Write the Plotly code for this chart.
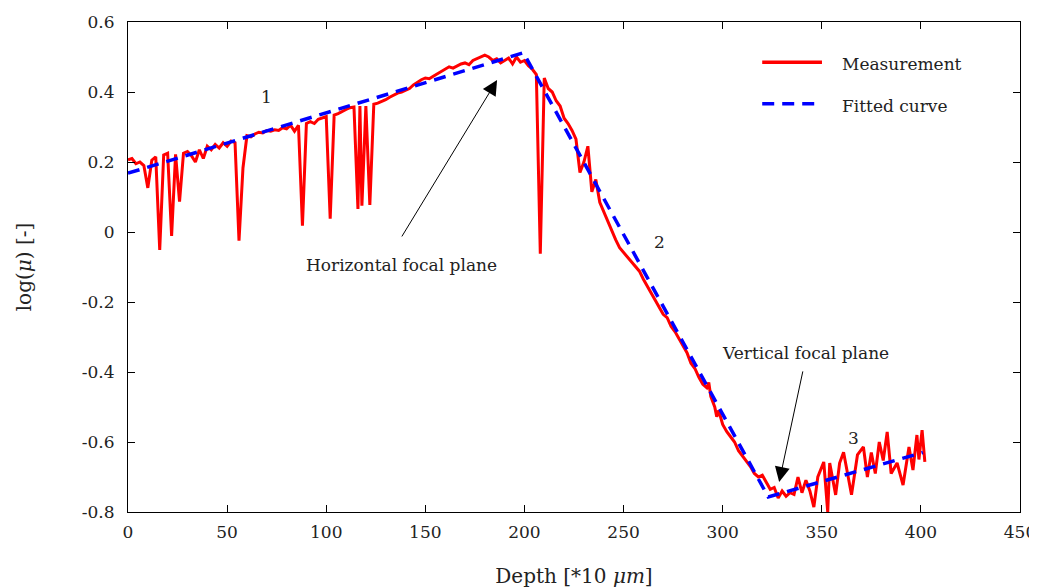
import plotly.graph_objects as go

# Measurement (depth in *10 um, log(mu))
depth_meas = [0, 2, 4, 6, 8, 10, 12, 14, 16, 18, 20, 22, 24, 26, 28, 30, 32, 34, 36, 38,
              40, 42, 44, 46, 48, 50, 52, 54, 56, 58, 60, 62, 64, 66, 68, 70, 72, 74, 76, 78,
              80, 82, 84, 86, 88, 90, 92, 94, 96, 98, 100, 102, 104, 106, 108, 110, 112, 114, 116, 117,
              118, 120, 122, 124, 126, 128, 130, 132, 134, 136, 138, 140, 142, 144, 146, 148, 150, 152, 154, 156,
              158, 160, 162, 164, 166, 168, 170, 172, 174, 176, 178, 180, 182, 184, 186, 188, 190, 192, 194, 196,
              198, 200, 202, 204, 206, 208, 210, 212, 214, 216, 218, 220, 222, 224, 226, 228, 230, 232, 234, 236,
              238, 240, 242, 244, 246, 248, 250, 252, 254, 256, 258, 260, 262, 264, 266, 268, 270, 272, 274, 276,
              278, 280, 282, 284, 286, 288, 290, 292, 293, 294, 296, 297, 298, 300, 302, 304, 306, 308, 310, 312,
              314, 316, 318, 320, 322, 324, 326, 328, 330, 332, 334, 336, 338, 340, 342, 344, 346, 348, 351, 353,
              354, 357, 359, 361, 363, 365, 368, 371, 373, 375, 377, 379, 381, 383, 385, 388, 391, 394, 396, 398,
              399, 400.6, 402]
logmu_meas = [0.206, 0.210, 0.195, 0.200, 0.190, 0.126, 0.205, 0.215, -0.051, 0.220, 0.225, -0.011, 0.222, 0.087, 0.225, 0.230, 0.218, 0.200, 0.235, 0.210,
              0.245, 0.235, 0.250, 0.240, 0.255, 0.245, 0.260, 0.255, -0.025, 0.183, 0.275, 0.272, 0.280, 0.285, 0.283, 0.290, 0.288, 0.292, 0.290, 0.298,
              0.295, 0.305, 0.288, 0.305, 0.018, 0.310, 0.315, 0.310, 0.322, 0.326, 0.330, 0.038, 0.334, 0.338, 0.345, 0.350, 0.355, 0.357, 0.066, 0.360,
              0.075, 0.360, 0.077, 0.365, 0.368, 0.372, 0.378, 0.385, 0.392, 0.397, 0.400, 0.405, 0.410, 0.420, 0.428, 0.435, 0.440, 0.438, 0.445, 0.452,
              0.460, 0.465, 0.472, 0.468, 0.475, 0.480, 0.483, 0.478, 0.490, 0.495, 0.500, 0.505, 0.500, 0.490, 0.495, 0.483, 0.490, 0.497, 0.480, 0.500,
              0.485, 0.490, 0.475, 0.465, 0.450, -0.062, 0.440, 0.410, 0.400, 0.375, 0.360, 0.325, 0.310, 0.290, 0.265, 0.170, 0.200, 0.245, 0.115, 0.150,
              0.085, 0.058, 0.030, 0.005, -0.022, -0.045, -0.058, -0.072, -0.085, -0.100, -0.112, -0.135, -0.155, -0.175, -0.195, -0.215, -0.235, -0.245, -0.270, -0.285,
              -0.305, -0.325, -0.345, -0.375, -0.390, -0.415, -0.435, -0.445, -0.430, -0.470, -0.500, -0.528, -0.510, -0.550, -0.570, -0.585, -0.600, -0.625, -0.640, -0.655,
              -0.670, -0.690, -0.700, -0.695, -0.715, -0.735, -0.730, -0.760, -0.740, -0.755, -0.745, -0.750, -0.700, -0.745, -0.709, -0.740, -0.786, -0.700, -0.657, -0.800,
              -0.660, -0.751, -0.660, -0.629, -0.690, -0.751, -0.637, -0.614, -0.700, -0.630, -0.690, -0.600, -0.653, -0.571, -0.690, -0.660, -0.723, -0.614, -0.680, -0.580,
              -0.650, -0.566, -0.657]

# Fitted piecewise-linear curve
depth_fit = [0, 199.5, 323, 401]
logmu_fit = [0.168, 0.512, -0.757, -0.630]

# Axis ticks
x_ticks = [0, 50, 100, 150, 200, 250, 300, 350, 400, 450]
y_ticks = [-0.8, -0.6, -0.4, -0.2, 0, 0.2, 0.4, 0.6]
y_tick_text = ["-0.8", "-0.6", "-0.4", "-0.2", "0", "0.2", "0.4", "0.6"]

series_names = ["Measurement", "Fitted curve"]
RED = "#ff0000"
BLUE = "#0000ff"
DASH = "12px,8px"
FONT = "DejaVu Serif"
FS = 17
TXT = "#222222"

fig = go.Figure()
fig.add_trace(go.Scatter(x=depth_meas, y=logmu_meas, mode="lines", name=series_names[0],
                         line=dict(color=RED, width=3), showlegend=False))
fig.add_trace(go.Scatter(x=depth_fit, y=logmu_fit, mode="lines", name=series_names[1],
                         line=dict(color=BLUE, width=3.5, dash=DASH), showlegend=False))

annots = [
    dict(x=70, y=0.386, text="1", showarrow=False),
    dict(x=268, y=-0.029, text="2", showarrow=False),
    dict(x=366, y=-0.589, text="3", showarrow=False),
    dict(x=138, y=-0.094, text="Horizontal focal plane", showarrow=False),
    dict(x=342, y=-0.346, text="Vertical focal plane", showarrow=False),
    dict(x=186.2, y=0.434, ax=137.7, ay=-0.017, axref="x", ayref="y", text="",
         showarrow=True, arrowhead=2, arrowsize=3, arrowwidth=1, arrowcolor="black"),
    dict(x=328.5, y=-0.714, ax=340.6, ay=-0.394, axref="x", ayref="y", text="",
         showarrow=True, arrowhead=2, arrowsize=3, arrowwidth=1, arrowcolor="black"),
]
for a in annots:
    a.setdefault("xref", "x")
    a.setdefault("yref", "y")
    a["font"] = dict(family=FONT, size=FS, color=TXT)
    fig.add_annotation(**a)

# Legend drawn in paper coordinates (long line samples, no frame)
leg_rows = [(0.918, RED, "solid"), (0.833, BLUE, DASH)]
for (yy, col, dsh), name in zip(leg_rows, series_names):
    fig.add_shape(type="line", xref="paper", yref="paper", x0=0.711, x1=0.778, y0=yy, y1=yy,
                  line=dict(color=col, width=3.5, dash=dsh))
    fig.add_annotation(xref="paper", yref="paper", x=0.798, y=yy - 0.004, text=name,
                       showarrow=False, xanchor="left", yanchor="middle",
                       font=dict(family=FONT, size=FS, color=TXT))

# page body adds an 8px margin, so the figure is sized to fit inside the window
fig.update_layout(
    width=1029, height=580,
    margin=dict(l=120, r=17, t=14, b=76),
    paper_bgcolor="white", plot_bgcolor="white",
    font=dict(family=FONT, size=FS, color=TXT),
    showlegend=False,
)
fig.update_xaxes(range=[0, 450], tickvals=x_ticks, ticks="inside", ticklen=7, tickcolor="black",
                 showline=True, linecolor="black", linewidth=1, mirror="ticks", showgrid=False,
                 zeroline=False, ticklabelstandoff=5, automargin=False,
                 title=dict(text="Depth [*10 <i>μm</i>]", standoff=28))
fig.update_yaxes(range=[-0.8, 0.6], tickvals=y_ticks, ticktext=y_tick_text, ticks="inside", ticklen=7,
                 tickcolor="black", showline=True, linecolor="black", linewidth=1, mirror="ticks",
                 showgrid=False, zeroline=False, ticklabelstandoff=9, automargin=False,
                 title=dict(text="log(<i>μ</i>) [-]", standoff=44))

fig.write_html("out.html")
